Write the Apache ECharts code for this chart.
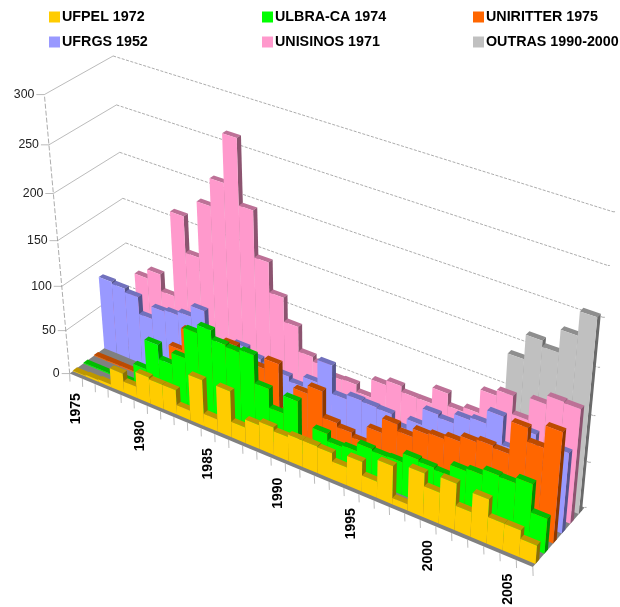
<!DOCTYPE html>
<html><head><meta charset="utf-8">
<style>html,body{margin:0;padding:0;background:#fff}#c{width:620px;height:607px}</style>
<script src="https://cdn.jsdelivr.net/npm/echarts@6/dist/echarts.min.js"></script>
</head><body><div id="c"></div>
<script>
const years=['1975','1976','1977','1978','1979','1980','1981','1982','1983','1984','1985','1986','1987','1988','1989','1990','1991','1992','1993','1994','1995','1996','1997','1998','1999','2000','2001','2002','2003','2004','2005','2006'];
const yearLabels=['1975','1980','1985','1990','1995','2000','2005'];
const valueTicks=[0,50,100,150,200,250,300];
const ufpel=[1,2,3,22,13,30,28,28,11,52,14,52,18,27,31,27,30,30,29,20,33,18,42,7,48,34,51,27,48,29,29,20];
const ulbra=[1,1,1,2,24,58,42,55,89,98,88,86,89,58,37,57,10,34,26,28,37,35,36,46,44,42,54,57,63,62,68,38];
const uniritter=[1,1,1,1,1,20,49,74,60,60,78,70,65,76,25,56,65,36,32,27,45,61,54,63,65,69,75,78,76,110,96,119];
const ufrgs=[83,81,77,58,72,74,78,90,55,52,67,60,55,53,48,59,84,53,58,57,56,46,57,75,72,82,85,99,69,93,65,87];
const unisinos=[60,60,90,100,81,174,135,195,224,274,206,157,125,99,72,67,59,60,52,72,77,71,71,88,75,80,105,111,92,115,124,123];
const outras=[0,0,0,0,0,0,0,0,0,0,0,0,0,0,0,0,0,0,0,0,5,8,10,15,20,25,30,140,165,159,182,206];

const seriesDefs=[
 {name:'OUTRAS 1990-2000',values:outras,color:'#C0C0C0',slot:5},
 {name:'UNISINOS 1971',values:unisinos,color:'#FF99CC',slot:4},
 {name:'UFRGS 1952',values:ufrgs,color:'#9999FF',slot:3},
 {name:'UNIRITTER 1975',values:uniritter,color:'#FF6600',slot:2},
 {name:'ULBRA-CA 1974',values:ulbra,color:'#00FF00',slot:1},
 {name:'UFPEL 1972',values:ufpel,color:'#FFCC00',slot:0}
];
const W=620,H=607;
const calib=[
 [0,0,0,70,373],[1,0,0,533,567],[1,0,1,585,508],
 [0,1/3,0,61.5,287],[0,2/3,0,53,193],[0,1,0,44.5,95],
 [0,1,1,113,56],[0,5/6,1,117,104],[0,2/3,1,119.5,152.5],[0,1/2,1,123,199],[0,1/3,1,125.5,243],
 [1,1,1,613,212],[1,5/6,1,608,265],[1,2/3,1,603,318],[1,1/2,1,598,367],[1,1/3,1,593,415],[1,1/6,1,588.5,462]
];
function solve(A,b){const n=b.length;const M=A.map((r,i)=>r.concat(b[i]));
 for(let i=0;i<n;i++){let p=i;for(let k=i+1;k<n;k++)if(Math.abs(M[k][i])>Math.abs(M[p][i]))p=k;
  [M[i],M[p]]=[M[p],M[i]];
  for(let k=0;k<n;k++){if(k===i)continue;const f=M[k][i]/M[i][i];for(let j=i;j<=n;j++)M[k][j]-=f*M[i][j];}}
 return M.map((r,i)=>r[n]/r[i]);}
const P=(function(){const S=600,n=11,A=[],b=[];for(let i=0;i<n;i++){A.push(new Array(n).fill(0));b.push(0);}
 function add(r,t){for(let i=0;i<n;i++){b[i]+=r[i]*t;for(let j=0;j<n;j++)A[i][j]+=r[i]*r[j];}}
 calib.forEach(([u,v,z,x,y])=>{x/=S;y/=S;
  add([1,u,v,z,0,0,0,0,-x*u,-x*v,-x*z],x);
  add([0,0,0,0,1,u,v,z,-y*u,-y*v,-y*z],y);});
 const s=solve(A,b);return {S,s};})();
function proj(u,v,z){const s=P.s,d=1+s[8]*u+s[9]*v+s[10]*z;
 return [P.S*(s[0]+s[1]*u+s[2]*v+s[3]*z)/d,P.S*(s[4]+s[5]*u+s[6]*v+s[7]*z)/d];}
function toBox(api,cat,val,side){const c=api.coord([cat,val]);const bw=api.size([1,0])[0]/2;
 return [(c[0]+side*bw)/W,1-c[1]/H];}
function shade(hex,f){const n=parseInt(hex.slice(1),16);
 return 'rgb('+[(n>>16)&255,(n>>8)&255,n&255].map(c=>Math.round(c*f)).join(',')+')';}
const SLOTS=6,DEPTH=0.40;
function barItem(def){return function(params,api){
 const i=api.value(0),v=api.value(1);
 const [u0,t]=toBox(api,i,v,-1),[u1]=toBox(api,i,v,1),[,b]=toBox(api,i,0,1);
 const zc=(def.slot+.5)/SLOTS,hd=DEPTH/SLOTS/2,z0=zc-hd,z1=zc+hd;
 const poly=(pts,fill,z2)=>({type:'polygon',z2,shape:{points:pts},style:{fill,stroke:null}});
 return {type:'group',children:[
  poly([proj(u0,t,z0),proj(u1,t,z0),proj(u1,t,z1),proj(u0,t,z1)],shade(def.color,.74),i*3),
  poly([proj(u1,b,z0),proj(u1,t,z0),proj(u1,t,z1),proj(u1,b,z1)],shade(def.color,.55),i*3+1),
  poly([proj(u0,b,z0),proj(u1,b,z0),proj(u1,t,z0),proj(u0,t,z0)],def.color,i*3+2)
 ]};
};}
function frameItem(params,api){
 const kids=[];
 const [uL]=toBox(api,0,0,-1),[uR]=toBox(api,years.length-1,0,1);
 const floor={type:'polygon',shape:{points:[proj(uL,0,0),proj(uR,0,0),proj(uR,0,1),proj(uL,0,1)]},style:{fill:'#808080'}};
 const line=(a,b,stroke,dash,w)=>({type:'line',shape:{x1:a[0],y1:a[1],x2:b[0],y2:b[1]},style:{stroke,lineWidth:w||.8,lineDash:dash||null}});
 valueTicks.forEach(t=>{const [,v]=toBox(api,0,t,0);
  const a=proj(uL,v,0),b=proj(uL,v,1),c=proj(uR,v,1);
  if(t>0){kids.push(line(a,b,'#aaaaaa'));kids.push(line(b,c,'#888888',[3,1.5],.7));}
  kids.push(line(a,[a[0]-8,a[1]],'#aaaaaa'));
  kids.push(line(c,[c[0]+2,c[1]],'#999999'));
  kids.push({type:'text',style:{text:String(t),x:a[0]-10,y:a[1],align:'right',verticalAlign:'middle',font:'12.3px "Liberation Sans"',fill:'#222'}});
 });
 const [,vTop]=toBox(api,0,valueTicks[valueTicks.length-1],0);
 kids.push(line(proj(uL,0,0),proj(uL,vTop,0),'#888888',[5,2],.7));
 kids.push(floor);
 years.forEach((y,i)=>{const [u]=toBox(api,i,0,-1);const p=proj(u,0,0);
  kids.push(line(p,[p[0]+.3,p[1]+8],'#aaaaaa'));});
 const [ue]=toBox(api,years.length-1,0,1);const pe=proj(ue,0,0);
 kids.push(line(pe,[pe[0]+.3,pe[1]+9],'#aaaaaa'));
 yearLabels.forEach(y=>{const i=years.indexOf(y);const [u]=toBox(api,i,0,0);const p=proj(u,0,0);
  kids.push({type:'text',x:p[0],y:p[1]+17,rotation:Math.PI/2,
   style:{text:y,x:0,y:0,align:'right',verticalAlign:'middle',font:'bold 14px "Liberation Sans"',fill:'#000'}});});
 return {type:'group',children:kids};
}
const series=[{type:'custom',name:'frame',silent:true,z:1,data:[[0,0]],renderItem:frameItem,clip:false,animation:false}];
seriesDefs.forEach((d,k)=>series.push({type:'custom',name:d.name,z:2+k,silent:true,clip:false,animation:false,
 itemStyle:{color:d.color},encode:{x:0,y:1},
 data:d.values.map((v,i)=>[i,v]),renderItem:barItem(d)}));
const legendBase={orient:'vertical',top:10,itemWidth:11,itemHeight:11,itemGap:11,selectedMode:false,icon:'rect',padding:0,
 textStyle:{fontWeight:'bold',fontSize:14.3,fontFamily:'Liberation Sans',color:'#000',padding:[0,0,0,-3]}};
const chart=echarts.init(document.getElementById('c'),null,{renderer:'canvas',width:W,height:H});
chart.setOption({animation:false,backgroundColor:'#fff',
 grid:{left:0,top:0,width:W,height:H},
 xAxis:{type:'category',data:years,show:false},
 yAxis:{type:'value',min:0,max:300,show:false},
 legend:[
  Object.assign({},legendBase,{left:49,data:['UFPEL 1972','UFRGS 1952']}),
  Object.assign({},legendBase,{left:262,data:['ULBRA-CA 1974','UNISINOS 1971']}),
  Object.assign({},legendBase,{left:473,data:['UNIRITTER 1975','OUTRAS 1990-2000']})
 ],
 series});
</script></body></html>
